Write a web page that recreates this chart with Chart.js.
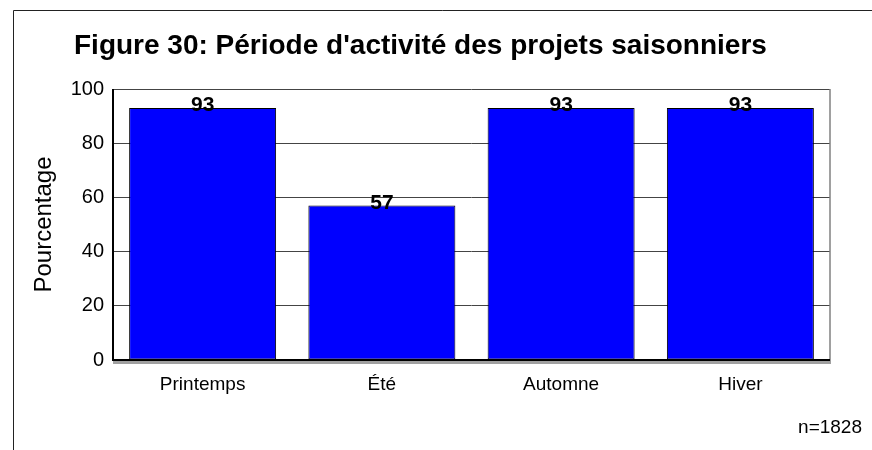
<!DOCTYPE html>
<html>
<head>
<meta charset="utf-8">
<script src="https://cdn.jsdelivr.net/npm/chart.js@4/dist/chart.umd.min.js"></script>
<style>
  html, body { margin: 0; padding: 0; background: #fff; }
  #wrap { width: 872px; height: 450px; position: relative; }
</style>
</head>
<body>
<div id="wrap"><canvas id="chart"></canvas></div>
<script>
const seasons = ['Printemps', 'Été', 'Automne', 'Hiver']
const percentages = [93, 57, 93, 93]
const yTicks = [0, 20, 40, 60, 80, 100]
const titleText = "Figure 30: Période d'activité des projets saisonniers"
const sampleNote = 'n=1828'

const FONT = 'Liberation Sans, Arial, Helvetica, sans-serif'

// frame, title, baseline shadow, value labels, n= note
const decorations = {
  id: 'decorations',
  beforeDraw(chart) {
    const ctx = chart.ctx
    ctx.save()
    ctx.fillStyle = '#fff'
    ctx.fillRect(0, 0, chart.width, chart.height)
    ctx.strokeStyle = '#222'
    ctx.lineWidth = 1
    ctx.beginPath()
    ctx.moveTo(13.5, chart.height)
    ctx.lineTo(13.5, 10.5)
    ctx.lineTo(chart.width, 10.5)
    ctx.stroke()
    ctx.restore()
  },
  afterDatasetsDraw(chart) {
    const ctx = chart.ctx
    const area = chart.chartArea
    const y = chart.scales.y
    ctx.save()
    // right border
    ctx.strokeStyle = '#808080'
    ctx.lineWidth = 1.5
    ctx.beginPath()
    ctx.moveTo(area.right, area.top)
    ctx.lineTo(area.right, area.bottom + 4)
    ctx.stroke()
    // baseline with grey shadow
    const y0 = y.getPixelForValue(0)
    ctx.fillStyle = '#a0a0a0'
    ctx.fillRect(area.left, y0 + 1, area.right - area.left + 1, 3)
    ctx.fillStyle = '#000'
    ctx.fillRect(area.left - 1, y0 - 1, area.right - area.left + 1, 2)
    // left axis
    ctx.fillRect(area.left - 1, area.top, 2, y0 - area.top + 1)

    // value labels
    ctx.font = 'bold 21px ' + FONT
    ctx.textAlign = 'center'
    ctx.textBaseline = 'alphabetic'
    ctx.fillStyle = '#000'
    chart.getDatasetMeta(0).data.forEach((bar, i) => {
      ctx.fillText(String(percentages[i]), bar.x, bar.y + 3)
    })

    // title
    ctx.font = 'bold 28px ' + FONT
    ctx.textAlign = 'left'
    ctx.fillText(titleText, 74, 54)

    // sample size
    ctx.font = '19px ' + FONT
    ctx.textAlign = 'right'
    ctx.fillText(sampleNote, 862, 433)
    ctx.restore()
  }
}

new Chart(document.getElementById('chart'), {
  type: 'bar',
  data: {
    labels: seasons,
    datasets: [{
      data: percentages,
      backgroundColor: '#0000ff',
      borderColor: '#000',
      borderWidth: 1,
      borderSkipped: false,
      categoryPercentage: 1,
      barPercentage: 0.82
    }]
  },
  options: {
    responsive: true,
    maintainAspectRatio: false,
    animation: false,
    layout: { padding: { left: 0, right: 42, top: 89, bottom: 0 } },
    plugins: {
      legend: { display: false },
      tooltip: { enabled: false },
      title: { display: false }
    },
    scales: {
      x: {
        grid: { display: false, drawTicks: false },
        border: { display: false },
        ticks: { color: '#000', font: { family: FONT, size: 19 }, padding: 13, maxRotation: 0 },
        afterFit(scale) { scale.height = 90 }
      },
      y: {
        min: 0,
        max: 100,
        afterBuildTicks(scale) { scale.ticks = yTicks.map(v => ({ value: v })) },
        grid: {
          color: '#444',
          lineWidth: 1,
          drawTicks: false
        },
        border: { display: false },
        ticks: { color: '#000', font: { family: FONT, size: 20 }, padding: 9 },
        title: {
          display: true,
          text: 'Pourcentage',
          color: '#000',
          font: { family: FONT, size: 24 },
          padding: { top: 30, bottom: 0 }
        },
        afterFit(scale) { scale.width = 113 }
      }
    }
  },
  plugins: [decorations]
})
</script>
</body>
</html>
